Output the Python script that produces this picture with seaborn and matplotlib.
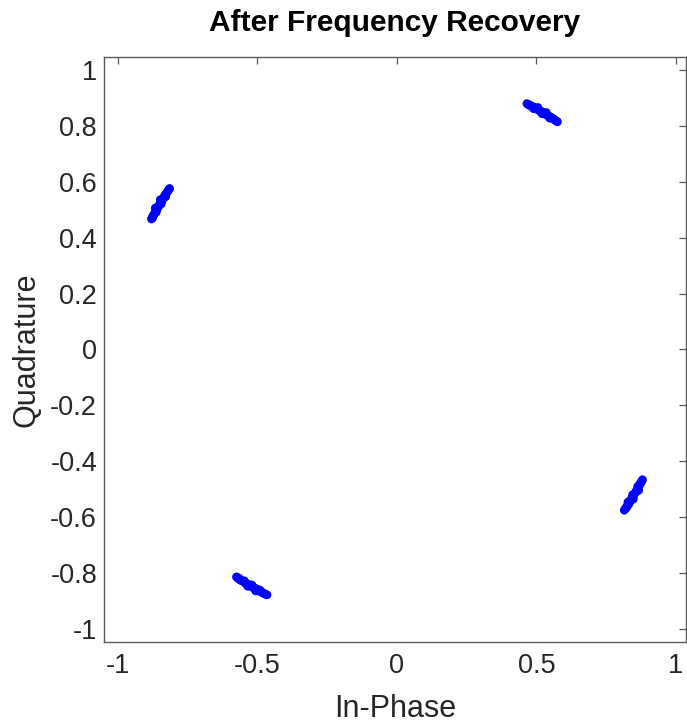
import matplotlib
matplotlib.use("Agg")
import matplotlib.pyplot as plt
import seaborn as sns
import pandas as pd

# Cluster near (0.5, 0.85)
i_tr = [0.466, 0.471, 0.476, 0.482, 0.488, 0.490, 0.495, 0.501, 0.505, 0.508, 0.514, 0.519, 0.520,
        0.525, 0.531, 0.535, 0.538, 0.544, 0.548, 0.551, 0.556, 0.562, 0.567, 0.571, 0.575]
q_tr = [0.880, 0.876, 0.875, 0.870, 0.869, 0.862, 0.864, 0.861, 0.866, 0.856, 0.854, 0.851, 0.844,
        0.847, 0.843, 0.848, 0.838, 0.836, 0.828, 0.832, 0.828, 0.825, 0.821, 0.818, 0.815]
# Cluster near (-0.85, 0.5)
i_l = [-0.880, -0.876, -0.875, -0.871, -0.869, -0.863, -0.865, -0.861, -0.866, -0.856, -0.855, -0.851, -0.845,
       -0.847, -0.843, -0.848, -0.839, -0.836, -0.829, -0.832, -0.828, -0.825, -0.821, -0.818, -0.815]
q_l = [0.467, 0.471, 0.477, 0.482, 0.487, 0.491, 0.496, 0.500, 0.506, 0.509, 0.513, 0.518, 0.521,
       0.526, 0.530, 0.536, 0.539, 0.543, 0.547, 0.552, 0.557, 0.561, 0.566, 0.572, 0.576]
# Cluster near (-0.5, -0.85)
i_b = [-0.575, -0.571, -0.566, -0.562, -0.557, -0.551, -0.547, -0.544, -0.539, -0.535, -0.530, -0.526, -0.520,
       -0.518, -0.513, -0.508, -0.506, -0.500, -0.495, -0.491, -0.487, -0.482, -0.477, -0.471, -0.466]
q_b = [-0.815, -0.819, -0.820, -0.826, -0.828, -0.831, -0.829, -0.837, -0.839, -0.848, -0.842, -0.847, -0.844,
       -0.852, -0.853, -0.856, -0.865, -0.860, -0.864, -0.862, -0.869, -0.871, -0.874, -0.877, -0.879]
# Cluster near (0.85, -0.5)
i_r = [0.815, 0.818, 0.822, 0.825, 0.829, 0.832, 0.828, 0.836, 0.839, 0.847, 0.843, 0.848, 0.845,
       0.851, 0.855, 0.857, 0.866, 0.861, 0.865, 0.863, 0.869, 0.871, 0.875, 0.877, 0.880]
q_r = [-0.576, -0.571, -0.567, -0.561, -0.556, -0.552, -0.547, -0.543, -0.540, -0.536, -0.530, -0.525, -0.521,
       -0.517, -0.513, -0.509, -0.505, -0.501, -0.496, -0.491, -0.487, -0.482, -0.477, -0.472, -0.467]

x_ticks = [-1, -0.5, 0, 0.5, 1]
x_tick_labels = ["-1", "-0.5", "0", "0.5", "1"]
y_ticks = [-1, -0.8, -0.6, -0.4, -0.2, 0, 0.2, 0.4, 0.6, 0.8, 1]
y_tick_labels = ["-1", "-0.8", "-0.6", "-0.4", "-0.2", "0", "0.2", "0.4", "0.6", "0.8", "1"]

df = pd.DataFrame({
    "In-Phase": i_tr + i_l + i_b + i_r,
    "Quadrature": q_tr + q_l + q_b + q_r,
})

sns.set_style("white")
plt.rcParams["font.family"] = ["Liberation Sans", "DejaVu Sans"]

fig = plt.figure(figsize=(6.87, 7.26), dpi=100)
ax = fig.add_axes([104 / 687, 84 / 726, 582 / 687, 585 / 726])

sns.scatterplot(data=df, x="In-Phase", y="Quadrature", ax=ax, s=40,
                color=(0, 0, 1), edgecolor="none", linewidth=0, legend=False)

ax.set_xlim(-1.05, 1.036)
ax.set_ylim(-1.048, 1.047)
ax.set_xticks(x_ticks)
ax.set_xticklabels(x_tick_labels)
ax.set_yticks(y_ticks)
ax.set_yticklabels(y_tick_labels)

txt = "#262626"
for sp in ax.spines.values():
    sp.set_visible(True)
    sp.set_color("#5a5a5a")
    sp.set_linewidth(1.0)
ax.tick_params(direction="in", length=5, width=0.9, color="#5a5a5a",
               top=True, right=True, labelsize=19.5, labelcolor=txt, pad=5)
ax.tick_params(axis="x", pad=8)

ax.set_xlabel("In-Phase", fontsize=22, color=txt, labelpad=11)
ax.set_ylabel("Quadrature", fontsize=22, color=txt, labelpad=6)
ax.set_title("After Frequency Recovery", fontsize=21.5, fontweight="bold",
             color="black", pad=19)

fig.savefig("out.png", dpi=100)
